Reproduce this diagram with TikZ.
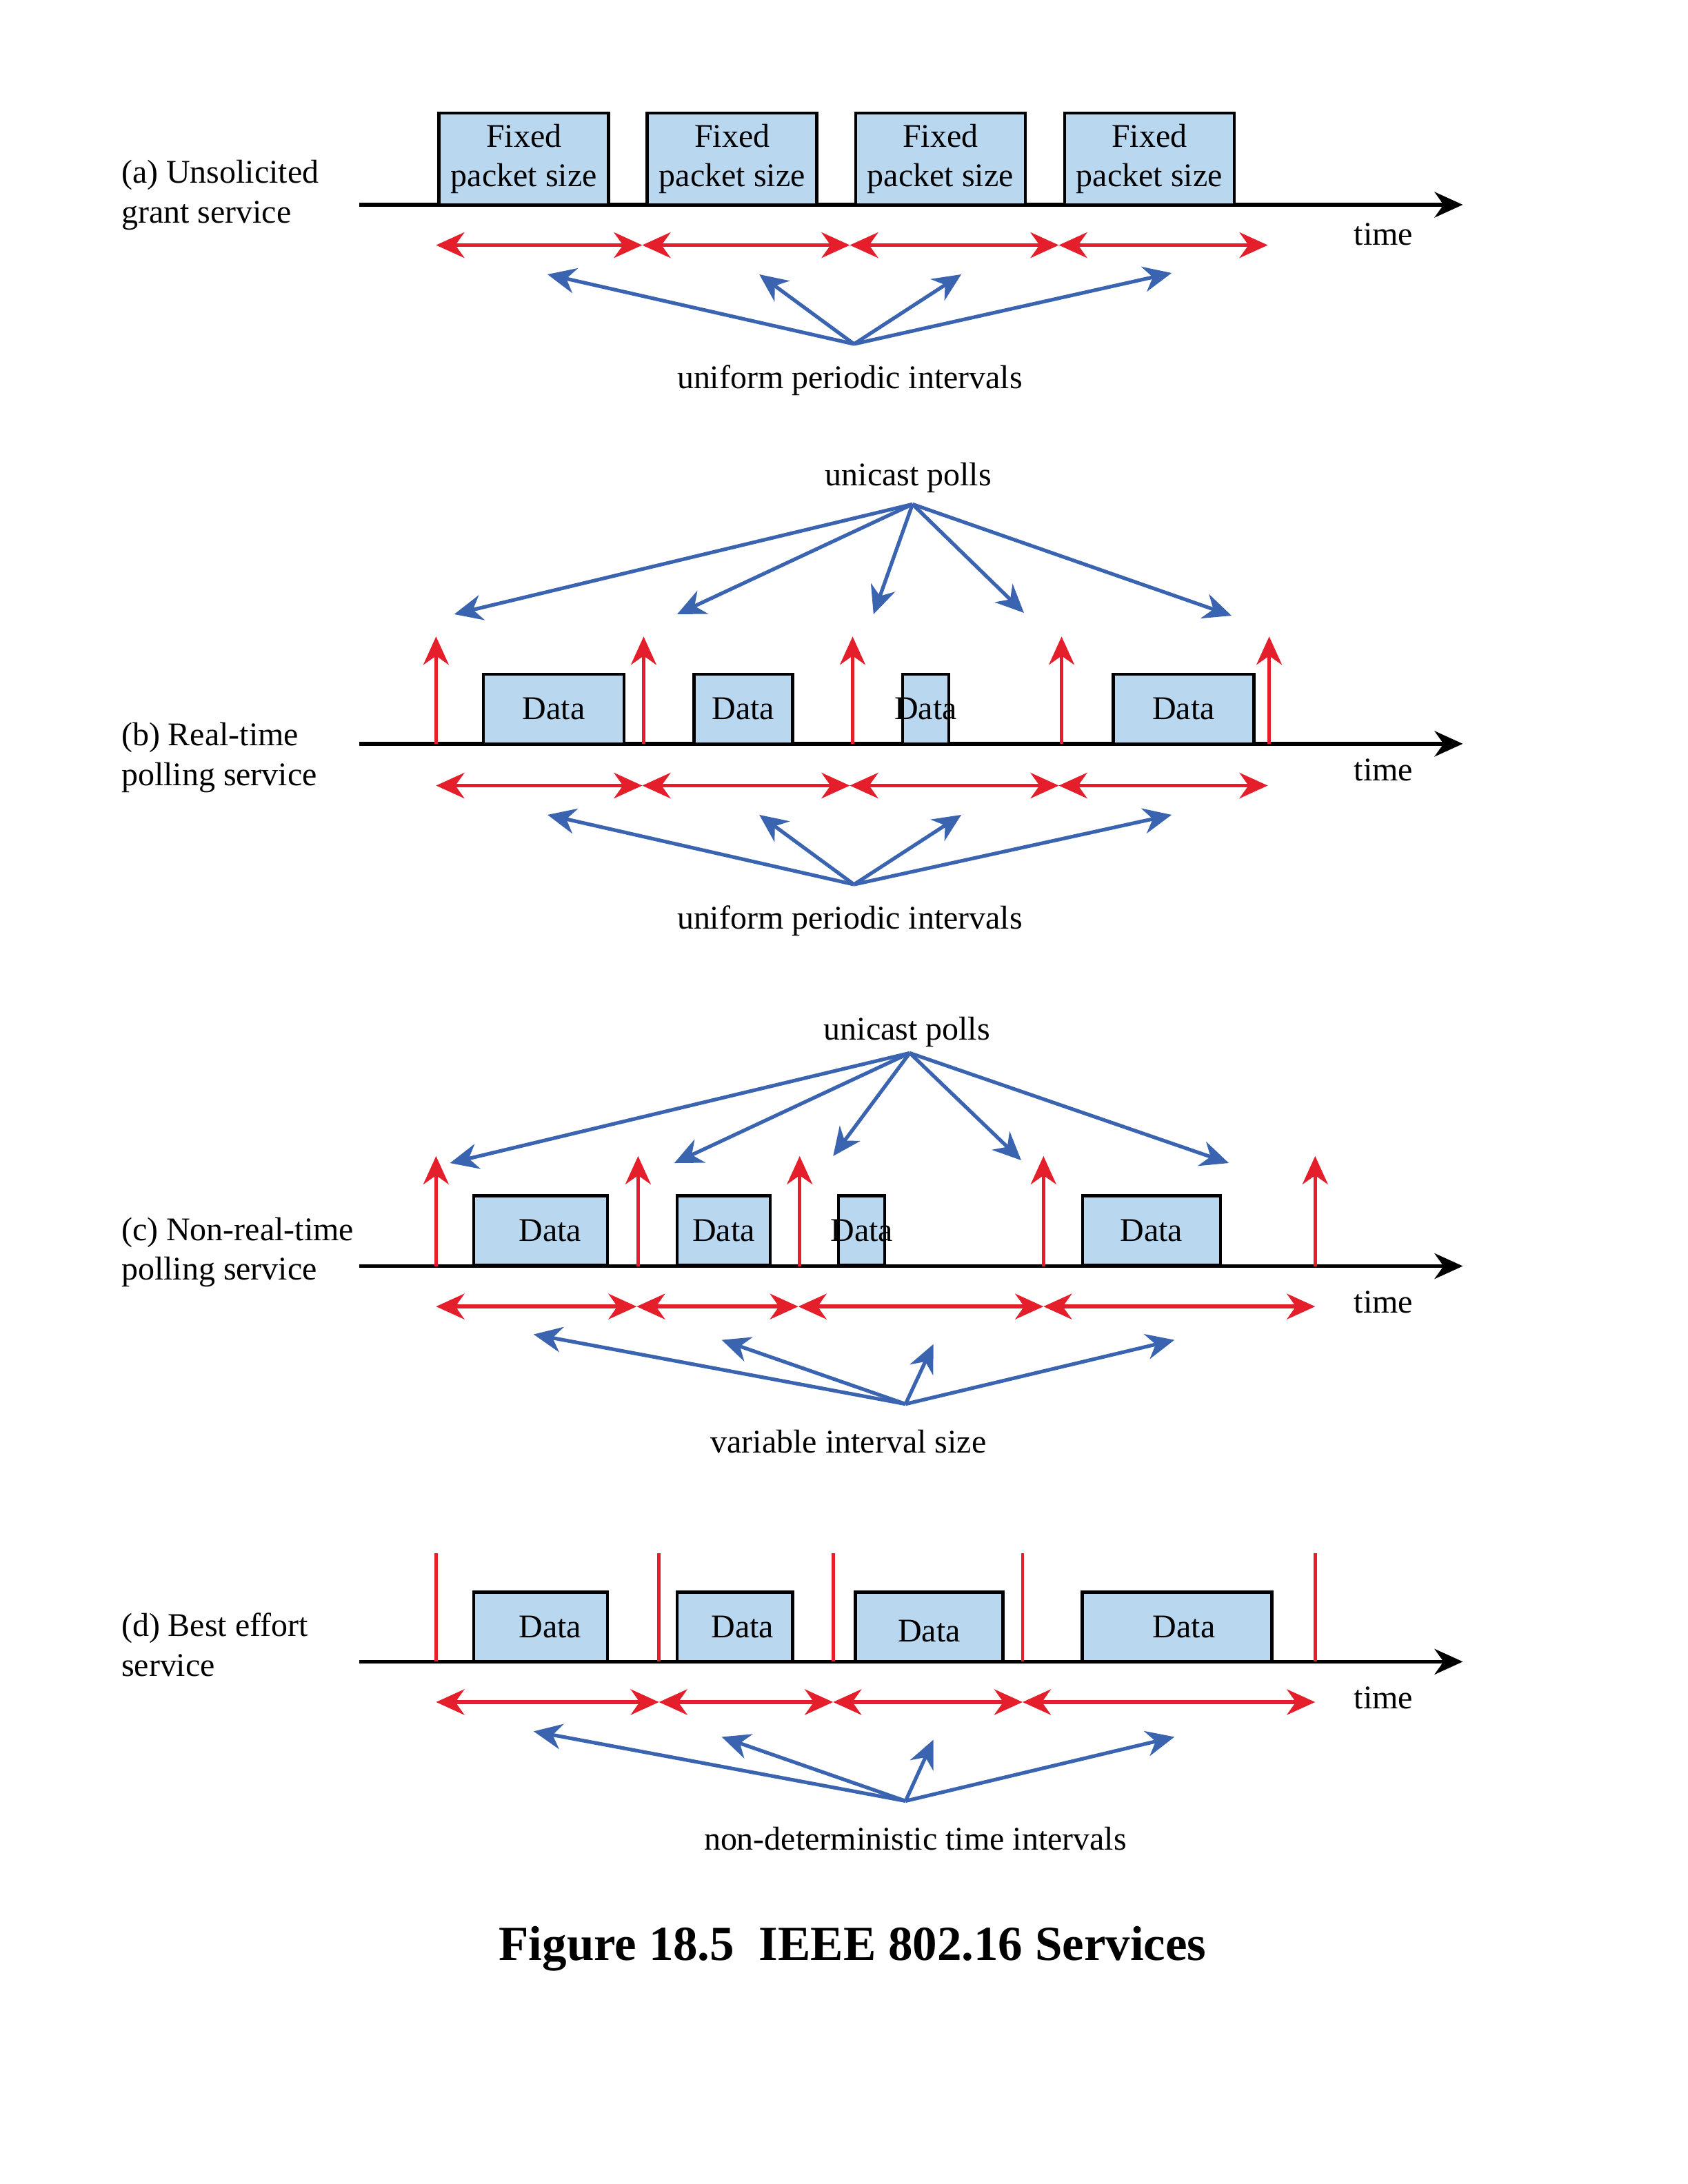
\documentclass[tikz,border=0pt]{standalone}
\usepackage{fontspec}
\setmainfont{Liberation Serif}
\usetikzlibrary{arrows.meta}
\definecolor{pktblue}{RGB}{185,216,240}
\definecolor{ivred}{RGB}{228,30,42}
\definecolor{ptrblue}{RGB}{58,100,175}

\begin{document}
\begin{tikzpicture}[x=0.20206mm,y=-0.20206mm,
    font=\fontsize{13.65}{16.4}\selectfont,
    >={Stealth[length=4.1mm,width=3.7mm,inset=1.3mm]},
    timeline/.style={->,line width=1.6pt},
    packet/.style={rectangle,draw,fill=pktblue,line width=1.3pt,inner sep=0pt,minimum height=10.1mm},
    interval/.style={<->,ivred,line width=1.6pt},
    pollup/.style={->,ivred,line width=1.3pt},
    slot/.style={ivred,line width=1.3pt},
    pointer/.style={->,ptrblue,line width=1.5pt},
    service/.style={anchor=west,align=left}]

  \useasboundingbox (0,0) rectangle (1211.5,1568);

  % (a) unsolicited grant
  \node[service] (labela) at (81,140) {(a) Unsolicited\\grant service};
  \coordinate (sa) at (258,147);
  \coordinate (ea) at (1050,147);
  \draw[timeline] (sa) -- (ea);
  \node[packet,minimum width=24.6mm,minimum height=13.3mm,align=center] (fa1) at (376,114) {Fixed\\packet size};
  \node[packet,minimum width=24.6mm,minimum height=13.3mm,align=center] (fa2) at (525.5,114) {Fixed\\packet size};
  \node[packet,minimum width=24.6mm,minimum height=13.3mm,align=center] (fa3) at (675,114) {Fixed\\packet size};
  \node[packet,minimum width=24.6mm,minimum height=13.3mm,align=center] (fa4) at (825,114) {Fixed\\packet size};
  \node (timea) at (993,168) {time};
  \coordinate (ia0) at (313,176);
  \coordinate (ia1) at (461,176);
  \coordinate (ia2) at (610,176);
  \coordinate (ia3) at (760,176);
  \coordinate (ia4) at (910,176);
  \draw[interval] (ia0) -- (ia1);
  \draw[interval] (ia1) -- (ia2);
  \draw[interval] (ia2) -- (ia3);
  \draw[interval] (ia3) -- (ia4);
  \node (uia) at (610,273) {uniform periodic intervals};
  \coordinate (oa) at (613,247);
  \coordinate (pa1) at (393,197);
  \coordinate (pa2) at (545,197);
  \coordinate (pa3) at (690,197);
  \coordinate (pa4) at (841,196);
  \draw[pointer] (oa) -- (pa1);
  \draw[pointer] (oa) -- (pa2);
  \draw[pointer] (oa) -- (pa3);
  \draw[pointer] (oa) -- (pa4);

  % (b) real-time polling
  \node[service] (labelb) at (81,544) {(b) Real-time\\polling service};
  \node (ucb) at (652,343) {unicast polls};
  \coordinate (ob) at (655,362);
  \coordinate (ub1) at (326,441);
  \coordinate (ub2) at (486,441);
  \coordinate (ub3) at (627,441);
  \coordinate (ub4) at (735,440);
  \coordinate (ub5) at (884,442);
  \draw[pointer] (ob) -- (ub1);
  \draw[pointer] (ob) -- (ub2);
  \draw[pointer] (ob) -- (ub3);
  \draw[pointer] (ob) -- (ub4);
  \draw[pointer] (ob) -- (ub5);
  \coordinate (sb) at (258,534);
  \coordinate (eb) at (1050,534);
  \draw[timeline] (sb) -- (eb);
  \node[packet,minimum width=20.4mm] (db1) at (397.5,509) {Data};
  \node[packet,minimum width=14.3mm] (db2) at (533.5,509) {Data};
  \node[packet,minimum width=6.7mm,label=center:Data] (db3) at (664.5,509) {};
  \node[packet,minimum width=20.4mm] (db4) at (849.5,509) {Data};
  \coordinate (qb0) at (313,534); \coordinate (rb0) at (313,457);
  \coordinate (qb1) at (462,534); \coordinate (rb1) at (462,457);
  \coordinate (qb2) at (612,534); \coordinate (rb2) at (612,457);
  \coordinate (qb3) at (762,534); \coordinate (rb3) at (762,457);
  \coordinate (qb4) at (911,534); \coordinate (rb4) at (911,457);
  \draw[pollup] (qb0) -- (rb0);
  \draw[pollup] (qb1) -- (rb1);
  \draw[pollup] (qb2) -- (rb2);
  \draw[pollup] (qb3) -- (rb3);
  \draw[pollup] (qb4) -- (rb4);
  \node (timeb) at (993,553) {time};
  \coordinate (ib0) at (313,564);
  \coordinate (ib1) at (461,564);
  \coordinate (ib2) at (610,564);
  \coordinate (ib3) at (760,564);
  \coordinate (ib4) at (910,564);
  \draw[interval] (ib0) -- (ib1);
  \draw[interval] (ib1) -- (ib2);
  \draw[interval] (ib2) -- (ib3);
  \draw[interval] (ib3) -- (ib4);
  \node (uib) at (610,661) {uniform periodic intervals};
  \coordinate (obb) at (613,635);
  \coordinate (pb1) at (393,585);
  \coordinate (pb2) at (545,585);
  \coordinate (pb3) at (690,585);
  \coordinate (pb4) at (841,585);
  \draw[pointer] (obb) -- (pb1);
  \draw[pointer] (obb) -- (pb2);
  \draw[pointer] (obb) -- (pb3);
  \draw[pointer] (obb) -- (pb4);

  % (c) non-real-time polling
  \node[service] (labelc) at (81,899) {(c) Non-real-time\\polling service};
  \node (ucc) at (651,741) {unicast polls};
  \coordinate (oc) at (653,756);
  \coordinate (uc1) at (323,835);
  \coordinate (uc2) at (484,835);
  \coordinate (uc3) at (598,830);
  \coordinate (uc4) at (733,833);
  \coordinate (uc5) at (882,835);
  \draw[pointer] (oc) -- (uc1);
  \draw[pointer] (oc) -- (uc2);
  \draw[pointer] (oc) -- (uc3);
  \draw[pointer] (oc) -- (uc4);
  \draw[pointer] (oc) -- (uc5);
  \coordinate (sc) at (258,909);
  \coordinate (ec) at (1050,909);
  \draw[timeline] (sc) -- (ec);
  \node[packet,minimum width=19.4mm,label={[xshift=1.4mm]center:Data}] (dc1) at (388,883.5) {};
  \node[packet,minimum width=13.5mm] (dc2) at (519.5,883.5) {Data};
  \node[packet,minimum width=6.7mm,label=center:Data] (dc3) at (618.5,883.5) {};
  \node[packet,minimum width=20mm] (dc4) at (826.5,883.5) {Data};
  \coordinate (qc0) at (313,909); \coordinate (rc0) at (313,830);
  \coordinate (qc1) at (458,909); \coordinate (rc1) at (458,830);
  \coordinate (qc2) at (574,909); \coordinate (rc2) at (574,830);
  \coordinate (qc3) at (749,909); \coordinate (rc3) at (749,830);
  \coordinate (qc4) at (944,909); \coordinate (rc4) at (944,830);
  \draw[pollup] (qc0) -- (rc0);
  \draw[pollup] (qc1) -- (rc1);
  \draw[pollup] (qc2) -- (rc2);
  \draw[pollup] (qc3) -- (rc3);
  \draw[pollup] (qc4) -- (rc4);
  \node (timec) at (993,935) {time};
  \coordinate (ic0) at (313,938);
  \coordinate (ic1) at (457,938);
  \coordinate (ic2) at (573,938);
  \coordinate (ic3) at (749,938);
  \coordinate (ic4) at (944,938);
  \draw[interval] (ic0) -- (ic1);
  \draw[interval] (ic1) -- (ic2);
  \draw[interval] (ic2) -- (ic3);
  \draw[interval] (ic3) -- (ic4);
  \node (vic) at (609,1035) {variable interval size};
  \coordinate (occ) at (650,1008);
  \coordinate (pc1) at (383,958);
  \coordinate (pc2) at (518,962);
  \coordinate (pc3) at (670,965);
  \coordinate (pc4) at (843,962);
  \draw[pointer] (occ) -- (pc1);
  \draw[pointer] (occ) -- (pc2);
  \draw[pointer] (occ) -- (pc3);
  \draw[pointer] (occ) -- (pc4);

  % (d) best effort
  \node[service] (labeld) at (81,1181) {(d) Best effort\\service};
  \coordinate (sd) at (258,1193);
  \coordinate (ed) at (1050,1193);
  \draw[timeline] (sd) -- (ed);
  \node[packet,minimum width=19.4mm,label={[xshift=1.4mm]center:Data}] (dd1) at (388,1168) {};
  \node[packet,minimum width=16.8mm,label={[xshift=1.1mm]center:Data}] (dd2) at (527.5,1168) {};
  \node[packet,minimum width=21.4mm,label={[yshift=-0.6mm]center:Data}] (dd3) at (667,1168) {};
  \node[packet,minimum width=27.5mm,label={[xshift=1mm]center:Data}] (dd4) at (845,1168) {};
  \coordinate (qd0) at (313,1193); \coordinate (rd0) at (313,1115);
  \coordinate (qd1) at (473,1193); \coordinate (rd1) at (473,1115);
  \coordinate (qd2) at (598,1193); \coordinate (rd2) at (598,1115);
  \coordinate (qd3) at (734,1193); \coordinate (rd3) at (734,1115);
  \coordinate (qd4) at (944,1193); \coordinate (rd4) at (944,1115);
  \draw[slot] (qd0) -- (rd0);
  \draw[slot] (qd1) -- (rd1);
  \draw[slot] (qd2) -- (rd2);
  \draw[slot] (qd3) -- (rd3);
  \draw[slot] (qd4) -- (rd4);
  \node (timed) at (993,1219) {time};
  \coordinate (id0) at (313,1222);
  \coordinate (id1) at (473,1222);
  \coordinate (id2) at (598,1222);
  \coordinate (id3) at (734,1222);
  \coordinate (id4) at (944,1222);
  \draw[interval] (id0) -- (id1);
  \draw[interval] (id1) -- (id2);
  \draw[interval] (id2) -- (id3);
  \draw[interval] (id3) -- (id4);
  \node (ndd) at (657,1320) {non-deterministic time intervals};
  \coordinate (od) at (650,1293);
  \coordinate (pd1) at (383,1243);
  \coordinate (pd2) at (518,1247);
  \coordinate (pd3) at (670,1249);
  \coordinate (pd4) at (843,1247);
  \draw[pointer] (od) -- (pd1);
  \draw[pointer] (od) -- (pd2);
  \draw[pointer] (od) -- (pd3);
  \draw[pointer] (od) -- (pd4);

  % caption
  \node[font=\fontsize{20.2}{24}\selectfont\bfseries] (caption) at (612,1399) {Figure 18.5~~IEEE 802.16 Services};
\end{tikzpicture}
\end{document}
